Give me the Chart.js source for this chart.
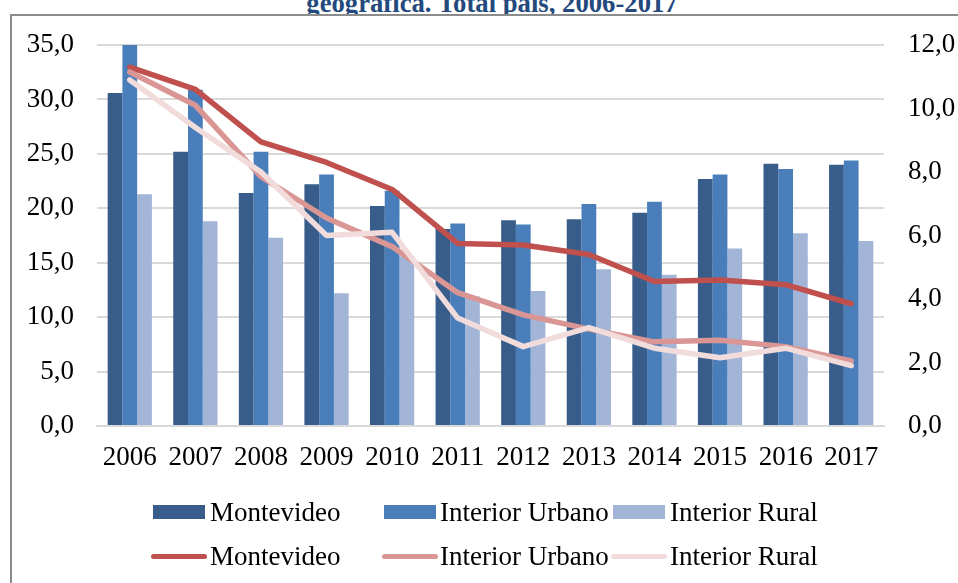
<!DOCTYPE html>
<html>
<head>
<meta charset="utf-8">
<script src="https://cdn.jsdelivr.net/npm/chart.js@4.4.1/dist/chart.umd.min.js"></script>
<style>
  html, body { margin: 0; padding: 0; background: #fff; overflow: hidden; }
  body { width: 958px; height: 583px; position: relative; font-family: "Liberation Serif", "Times New Roman", serif; }
  #frame { position: absolute; left: 10px; top: 14px; width: 2000px; height: 2000px;
           border-top: 2px solid #8c8c8c; border-left: 2px solid #8c8c8c; box-sizing: border-box; }
  #titleClip { position: absolute; left: 0; top: 0; width: 984px; height: 14px; overflow: hidden; }
  #title { position: absolute; left: 0; top: -9.6px; width: 984px; text-align: center;
           font: bold 26.7px/26.7px "Liberation Serif", serif; color: #24497c; white-space: nowrap; }
  #c { position: absolute; left: 0; top: 0; }
  .sw { position: absolute; }
  .lt { position: absolute; font: 27px/30px "Liberation Serif", serif; color: #000; white-space: nowrap; }
</style>
</head>
<body>
<div id="frame"></div>
<div id="titleClip"><div id="title">geográfica. Total país, 2006-2017</div></div>
<canvas id="c" width="958" height="583"></canvas>
<div id="legend"></div>
<script>
// ---- data ----
const years = ["2006","2007","2008","2009","2010","2011","2012","2013","2014","2015","2016","2017"];
const seriesNames = ["Montevideo", "Interior Urbano", "Interior Rural"];
// bars (left axis)
const mvdBars = [30.6, 25.2, 21.4, 22.2, 20.2, 18.1, 18.9, 19.0, 19.6, 22.7, 24.1, 24.0];
const urbBars = [35.0, 30.9, 25.2, 23.1, 21.6, 18.6, 18.5, 20.4, 20.6, 23.1, 23.6, 24.4];
const rurBars = [21.3, 18.8, 17.3, 12.2, 15.6, 11.9, 12.4, 14.4, 13.9, 16.3, 17.7, 17.0];
// lines (right axis)
const mvdLine = [11.3, 10.6, 8.95, 8.3, 7.45, 5.75, 5.7, 5.4, 4.55, 4.6, 4.45, 3.85];
const urbLine = [11.15, 10.1, 7.85, 6.55, 5.65, 4.2, 3.5, 3.05, 2.65, 2.7, 2.5, 2.05];
const rurLine = [10.9, 9.4, 8.0, 6.0, 6.1, 3.4, 2.5, 3.1, 2.45, 2.15, 2.45, 1.9];
// axis ticks
const leftTicks = [0, 5, 10, 15, 20, 25, 30, 35];
const rightTicks = [0, 2, 4, 6, 8, 10, 12];

const barColors = ["#385d8a", "#4a7ebb", "#a3b5d7"];
const lineColors = ["#c0504d", "#d99694", "#f2dcdb"];

const fmt = v => Number(v).toFixed(1).replace('.', ',');
const tickFont = { family: "'Liberation Serif', 'Times New Roman', serif", size: 27 };

const barSets = [mvdBars, urbBars, rurBars].map((d, i) => ({
  type: 'bar', label: seriesNames[i], data: d, yAxisID: 'y',
  backgroundColor: barColors[i], borderWidth: 0,
  categoryPercentage: 0.675, barPercentage: 1.0, order: 5
}));
const lineSets = [mvdLine, urbLine, rurLine].map((d, i) => ({
  type: 'line', label: seriesNames[i], data: d, yAxisID: 'y1',
  borderColor: lineColors[i], backgroundColor: lineColors[i], borderWidth: 5.5,
  pointRadius: 0, tension: 0, borderJoinStyle: 'round', borderCapStyle: 'round',
  order: 2 - i
}));

new Chart(document.getElementById('c'), {
  data: { labels: years, datasets: [...barSets, ...lineSets] },
  options: {
    responsive: false, animation: false, devicePixelRatio: 1,
    layout: { padding: { top: 45, left: 0, right: 0, bottom: 0 } },
    plugins: { legend: { display: false }, title: { display: false }, tooltip: { enabled: false } },
    scales: {
      x: {
        grid: { display: false, drawTicks: false },
        border: { display: true, color: '#d9d9d9', width: 2 },
        ticks: { color: '#000', font: tickFont, padding: 16, maxRotation: 0, autoSkip: false },
        afterFit: s => { s.height = 157; }
      },
      y: {
        position: 'left', min: 0, max: 35,
        afterBuildTicks: s => { s.ticks = leftTicks.map(v => ({ value: v })); },
        ticks: { color: '#000', font: tickFont, padding: 23, callback: v => fmt(v) },
        grid: { color: '#d9d9d9', lineWidth: 2, drawTicks: false },
        border: { display: false },
        afterFit: s => { s.width = 97; }
      },
      y1: {
        position: 'right', min: 0, max: 12,
        afterBuildTicks: s => { s.ticks = rightTicks.map(v => ({ value: v })); },
        ticks: { color: '#000', font: tickFont, padding: 24, callback: v => fmt(v) },
        grid: { drawOnChartArea: false, drawTicks: false },
        border: { display: false },
        afterFit: s => { s.width = 74; }
      }
    }
  }
});

// ---- HTML legend ----
const legend = document.getElementById('legend');
const colX = [153, 384, 613];
const textX = [210, 440, 670];
const rowY = [512, 556];
seriesNames.forEach((name, i) => {
  // bar row
  const b = document.createElement('div');
  b.className = 'sw';
  Object.assign(b.style, { left: colX[i] + 'px', top: (rowY[0] - 7) + 'px', width: '52px', height: '14px', background: barColors[i] });
  legend.appendChild(b);
  const t1 = document.createElement('div');
  t1.className = 'lt'; t1.textContent = name;
  Object.assign(t1.style, { left: textX[i] + 'px', top: (rowY[0] - 15) + 'px' });
  legend.appendChild(t1);
  // line row
  const l = document.createElement('div');
  l.className = 'sw';
  Object.assign(l.style, { left: (colX[i] - 2) + 'px', top: (rowY[1] - 2.5) + 'px', width: '56px', height: '5px', background: lineColors[i], borderRadius: '3px' });
  legend.appendChild(l);
  const t2 = document.createElement('div');
  t2.className = 'lt'; t2.textContent = name;
  Object.assign(t2.style, { left: textX[i] + 'px', top: (rowY[1] - 15) + 'px' });
  legend.appendChild(t2);
});
</script>
</body>
</html>
